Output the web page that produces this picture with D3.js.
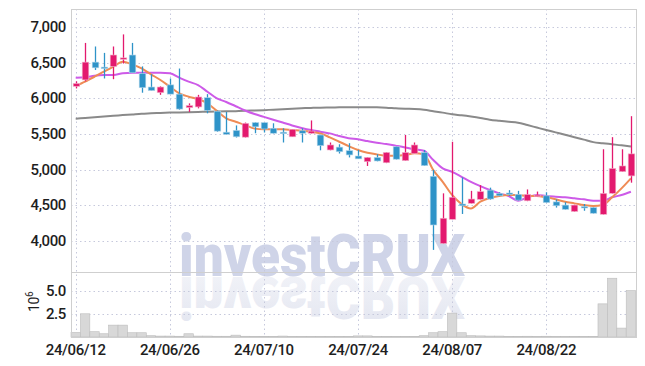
<!DOCTYPE html>
<html>
<head>
<meta charset="utf-8">
<script src="https://cdn.jsdelivr.net/npm/d3@7"></script>
<style>
  body { margin:0; background:#fff; }
  svg { display:block; }
  .tk { font-family:"Roboto","Liberation Sans",sans-serif; font-weight:500; font-size:15px; fill:#1e1e1e; letter-spacing:-0.4px; }
</style>
</head>
<body>
<svg id="svg1"></svg>
<script>
var W = 645, H = 366;

var dates = ["24/06/12","24/06/13","24/06/14","24/06/17","24/06/18","24/06/19","24/06/20","24/06/21","24/06/24","24/06/25",
  "24/06/26","24/06/27","24/06/28","24/07/01","24/07/02","24/07/03","24/07/04","24/07/05","24/07/08","24/07/09",
  "24/07/10","24/07/11","24/07/12","24/07/15","24/07/16","24/07/17","24/07/18","24/07/19","24/07/22","24/07/23",
  "24/07/24","24/07/25","24/07/26","24/07/29","24/07/30","24/07/31","24/08/01","24/08/02","24/08/05","24/08/06",
  "24/08/07","24/08/08","24/08/09","24/08/12","24/08/13","24/08/14","24/08/16","24/08/19","24/08/20","24/08/21",
  "24/08/22","24/08/23","24/08/26","24/08/27","24/08/28","24/08/29","24/08/30","24/09/02","24/09/03","24/09/04"];

var open  = [6170,6260,6510,6440,6450,6550,6610,6350,6160,6080, 6190,6060,5870,5880,6010,5820,5525,5550,5455,5660,
             5660,5580,5525,5460,5545,5510,5485,5275,5315,5265, 5190,5110,5170,5095,5320,5125,5225,5240,4905,3960,
             4300,4515,4525,4580,4710,4665,4670,4650,4560,4620, 4630,4545,4500,4410,4480,4465,4370,4665,4970,4910];
var high  = [6240,6780,6730,6640,6730,6900,6780,6450,6340,6170, 6280,6420,5930,6050,6060,5830,5810,5620,5660,5665,
             5660,5650,5580,5570,5580,5690,5490,5380,5355,5370, 5275,5175,5215,5245,5325,5485,5380,5275,4995,4665,
             5390,4890,4700,4780,4745,4680,4710,4700,4720,4690, 4680,4580,4540,4505,4515,4470,5285,5455,5285,5750];
var low   = [6140,6240,6400,6280,6270,6490,6360,6080,6110,6050, 6060,5840,5810,5860,5790,5530,5490,5450,5450,5510,
             5520,5505,5380,5460,5380,5505,5270,5270,5225,5170, 5150,5050,5115,5090,5140,5120,5225,5050,3870,3955,
             4300,4375,4520,4575,4575,4625,4630,4560,4555,4615, 4530,4465,4435,4405,4420,4380,4365,4660,4965,4815];
var close = [6210,6510,6430,6420,6610,6570,6360,6150,6110,6160, 6060,5850,5900,6020,5830,5540,5495,5460,5650,5600,
             5570,5510,5515,5565,5510,5540,5335,5345,5250,5205, 5150,5170,5120,5240,5145,5240,5345,5055,4220,4315,
             4610,4490,4585,4690,4585,4630,4660,4570,4650,4640, 4535,4490,4440,4500,4470,4385,4665,5015,5050,5220];

// volume in millions
var volume = [0.49,2.5,0.57,0.35,1.28,1.28,0.46,0.46,0.14,0.1, 0.1,0.08,0.35,0.1,0.1,0.08,0.08,0.2,0.08,0.07,
              0.06,0.05,0.1,0.05,0.04,0.05,0.04,0.04,0.04,0.05, 0.12,0.12,0.05,0.04,0.05,0.06,0.05,0.14,0.46,0.57,
              2.57,0.46,0.14,0.12,0.1,0.1,0.06,0.06,0.08,0.05, 0.08,0.04,0.04,0.04,0.04,0.05,3.57,6.33,0.96,5.0];

var maShort = [6175,6237,6305,6376,6446,6516,6479,6422,6339,6259, 6165,6071,6024,5991,5931,5825,5720,5672,5625,5575,
               5565,5565,5565,5555,5546,5532,5508,5452,5390,5330, 5274,5236,5213,5194,5194,5203,5227,5213,4992,4827,
               4642,4514,4453,4547,4600,4628,4642,4642,4628,4628, 4609,4581,4547,4524,4500,4486,4500,4609,4735,4876];
var maMid   = [6292,6297,6320,6329,6329,6353,6362,6362,6362,6362, 6353,6292,6235,6188,6094,6000,5950,5890,5830,5780,
               5740,5700,5660,5620,5585,5555,5532,5508,5470,5440, 5424,5400,5377,5358,5335,5311,5283,5264,5133,5016,
               4968,4898,4827,4767,4712,4665,4628,4561,4609,4642, 4628,4618,4609,4595,4581,4561,4561,4609,4642,4688];
var maLong  = [5715,5725,5735,5745,5755,5765,5775,5785,5790,5795, 5800,5803,5806,5809,5812,5815,5818,5821,5825,5830,
               5835,5842,5849,5856,5862,5866,5870,5872,5874,5875, 5876,5876,5875,5870,5862,5855,5850,5840,5820,5800,
               5776,5762,5745,5725,5700,5685,5672,5658,5625,5590, 5555,5522,5488,5455,5420,5385,5370,5355,5340,5322];

var priceTicks = [4000,4500,5000,5500,6000,6500,7000];
var volTicks = [2.5,5.0];
var dateTicks = [0,10,20,30,40,50];

var upColor = "#e3196e", downColor = "#2e93c8";
var gridColor = "#c6c9dc", borderColor = "#cfcfcf";

window.onload = function(){
  var svg1 = d3.select('#svg1').attr('width',W).attr('height',H);
  var L = 71, R = 636, T = 9, MID = 272, B = 337;

  var x = d3.scaleLinear().domain([-0.5,59.54]).range([L,R]);
  var y = d3.scaleLinear().domain([3559,7257]).range([MID,T]);
  var yv = d3.scaleLinear().domain([0,7.0]).range([B,MID]);
  var step = x(1)-x(0);

  svg1.append('rect').attr('width',W).attr('height',H).attr('fill','#fff');

  // watermark + its reflection
  var defs = svg1.append('defs');
  var grad = defs.append('linearGradient').attr('id','fade').attr('x1',0).attr('y1',0).attr('x2',0).attr('y2',1);
  grad.append('stop').attr('offset','0%').attr('stop-color','#dfe2ee').attr('stop-opacity',0.9);
  grad.append('stop').attr('offset','100%').attr('stop-color','#dfe2ee').attr('stop-opacity',0.35);
  var wm = svg1.append('g');
  wm.append('text').attr('x',179).attr('y',276)
    .attr('font-family','Roboto, Liberation Sans, sans-serif').attr('font-weight',900)
    .attr('font-size',60).attr('textLength',286).attr('lengthAdjust','spacingAndGlyphs')
    .attr('fill','#cfd4e8').text('investCRUX');
  wm.append('text').attr('x',179).attr('y',276)
    .attr('transform','translate(0,553) scale(1,-1)')
    .attr('font-family','Roboto, Liberation Sans, sans-serif').attr('font-weight',900)
    .attr('font-size',60).attr('textLength',286).attr('lengthAdjust','spacingAndGlyphs')
    .attr('fill','url(#fade)').text('investCRUX');

  // grid
  var grid = svg1.append('g').attr('stroke',gridColor).attr('stroke-width',1).attr('stroke-dasharray','1.5,3');
  grid.selectAll('.hg').data(priceTicks).enter().append('line')
    .attr('x1',L).attr('x2',R).attr('y1',function(d){ return Math.round(y(d))+0.5; }).attr('y2',function(d){ return Math.round(y(d))+0.5; });
  grid.selectAll('.vg').data(volTicks).enter().append('line')
    .attr('x1',L).attr('x2',R).attr('y1',function(d){ return Math.round(yv(d))+0.5; }).attr('y2',function(d){ return Math.round(yv(d))+0.5; });
  grid.selectAll('.xg').data(dateTicks).enter().append('line')
    .attr('y1',T).attr('y2',B).attr('x1',function(d){ return Math.round(x(d))+0.5; }).attr('x2',function(d){ return Math.round(x(d))+0.5; });

  // volume bars
  svg1.append('g').selectAll('rect').data(volume).enter().append('rect')
    .attr('x',function(d,i){ return x(i-0.5); })
    .attr('width',step)
    .attr('y',function(d){ return yv(d); })
    .attr('height',function(d){ return B-yv(d); })
    .attr('fill','#d8d8d8').attr('stroke','#bdbdbd').attr('stroke-width',0.6);

  // moving averages
  var line = function(arr){ return d3.line().x(function(d,i){ return x(i); }).y(function(d){ return y(d); }).curve(d3.curveMonotoneX)(arr); };
  svg1.append('path').attr('d',line(maLong)).attr('fill','none').attr('stroke','#8a8a8a').attr('stroke-width',2);
  svg1.append('path').attr('d',line(maMid)).attr('fill','none').attr('stroke','#cd5ae8').attr('stroke-width',2);
  svg1.append('path').attr('d',line(maShort)).attr('fill','none').attr('stroke','#ef8b55').attr('stroke-width',2);

  // candles
  var idx = d3.range(open.length);
  var cg = svg1.append('g');
  cg.selectAll('line').data(idx).enter().append('line')
    .attr('x1',function(i){ return Math.round(x(i))+0.5; }).attr('x2',function(i){ return Math.round(x(i))+0.5; })
    .attr('y1',function(i){ return y(high[i]); }).attr('y2',function(i){ return y(low[i]); })
    .attr('stroke',function(i){ return close[i]>=open[i] ? upColor : downColor; }).attr('stroke-width',1.3);
  cg.selectAll('rect').data(idx).enter().append('rect')
    .attr('x',function(i){ return Math.round(x(i))+0.5-3.3; }).attr('width',6.6)
    .attr('y',function(i){ return y(Math.max(open[i],close[i])); })
    .attr('height',function(i){ return Math.max(1.5, Math.abs(y(open[i])-y(close[i]))); })
    .attr('fill',function(i){ return close[i]>=open[i] ? upColor : downColor; })
    .attr('stroke',function(i){ return close[i]>=open[i] ? '#f3b3cc' : '#b3d6ea'; }).attr('stroke-width',0.6);

  // frame
  var fr = svg1.append('g').attr('stroke',borderColor).attr('stroke-width',1).attr('fill','none');
  fr.append('rect').attr('x',L+0.5).attr('y',T+0.5).attr('width',R-L).attr('height',B-T);
  fr.append('line').attr('x1',L).attr('x2',R).attr('y1',MID+0.5).attr('y2',MID+0.5);

  // tick labels
  svg1.selectAll('.py').data(priceTicks).enter().append('text').attr('class','tk')
    .attr('x',66).attr('y',function(d){ return y(d)+5; }).attr('text-anchor','end')
    .text(function(d){ return d3.format(',')(d); });
  svg1.selectAll('.vy').data(volTicks).enter().append('text').attr('class','tk')
    .attr('x',66).attr('y',function(d){ return yv(d)+5; }).attr('text-anchor','end')
    .text(function(d){ return d3.format('.1f')(d); });
  svg1.selectAll('.dx').data(dateTicks).enter().append('text').attr('class','tk')
    .attr('x',function(d){ return x(d); }).attr('y',355).attr('text-anchor','middle')
    .text(function(d){ return dates[d]; });

  var ex = svg1.append('text').attr('class','tk').attr('transform','translate(39,312) rotate(-90)').style('font-size','14px').style('font-weight',400);
  ex.append('tspan').text('10');
  ex.append('tspan').attr('dy',-6).style('font-size','10px').text('6');
};
</script>
</body>
</html>
